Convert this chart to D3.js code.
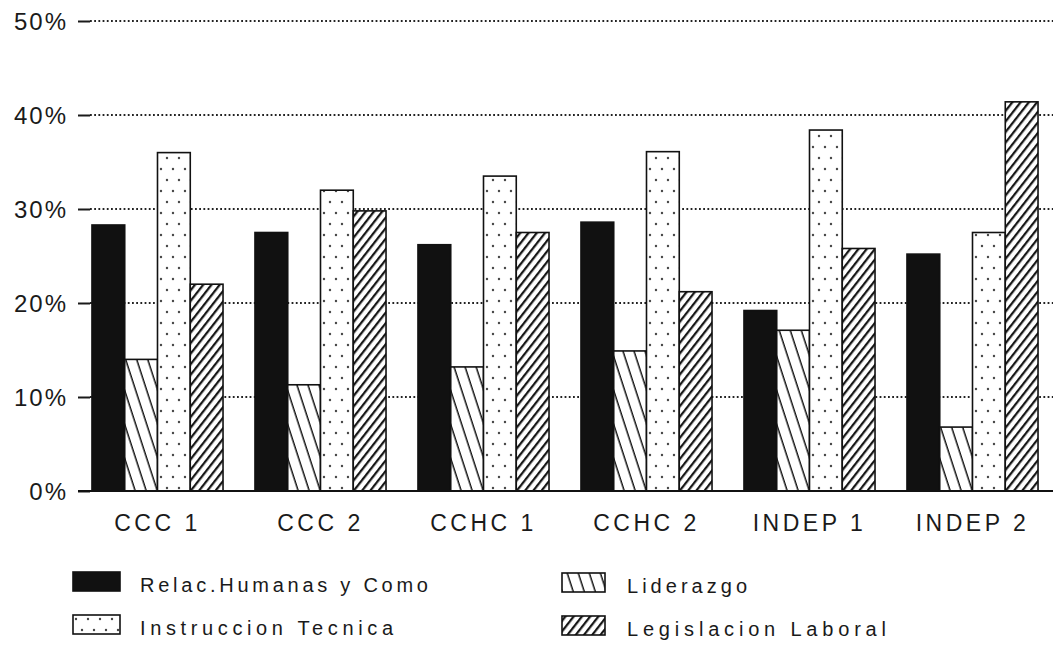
<!DOCTYPE html>
<html>
<head>
<meta charset="utf-8">
<script src="https://cdn.jsdelivr.net/npm/d3@7/dist/d3.min.js"></script>
<style>
  html, body { margin: 0; padding: 0; background: #fff; }
  svg { display: block; }
  text { font-family: "Liberation Sans", Arial, sans-serif; fill: #1a1a1a; }
</style>
</head>
<body>
<svg id="chart" width="1053" height="649"></svg>
<script>
const categories = ["CCC 1", "CCC 2", "CCHC 1", "CCHC 2", "INDEP 1", "INDEP 2"];
const seriesNames = ["Relac.Humanas y Como", "Liderazgo", "Instruccion Tecnica", "Legislacion Laboral"];
const relacHumanas = [28.3, 27.5, 26.2, 28.6, 19.2, 25.2];
const liderazgo    = [14.0, 11.3, 13.2, 14.9, 17.1, 6.8];
const instruccion  = [36.0, 32.0, 33.5, 36.1, 38.4, 27.5];
const legislacion  = [22.0, 29.8, 27.5, 21.2, 25.8, 41.4];
const yTicks = [0, 10, 20, 30, 40, 50];

const seriesValues = [relacHumanas, liderazgo, instruccion, legislacion];
const fills = ["#111", "url(#pLid)", "url(#pDots)", "url(#pLeg)"];

const svg = d3.select("#chart");
const W = 1053;

// patterns
const defs = svg.append("defs");
const pLid = defs.append("pattern").attr("id", "pLid").attr("patternUnits", "userSpaceOnUse")
  .attr("width", 10.5).attr("height", 10).attr("patternTransform", "rotate(-18)");
pLid.append("rect").attr("width", 10.5).attr("height", 10).attr("fill", "#fff");
pLid.append("line").attr("x1", 5).attr("x2", 5).attr("y1", -1).attr("y2", 11)
  .attr("stroke", "#111").attr("stroke-width", 1.5);

const pLeg = defs.append("pattern").attr("id", "pLeg").attr("patternUnits", "userSpaceOnUse")
  .attr("width", 6.5).attr("height", 10).attr("patternTransform", "rotate(38)");
pLeg.append("rect").attr("width", 6.5).attr("height", 10).attr("fill", "#fff");
pLeg.append("line").attr("x1", 3).attr("x2", 3).attr("y1", -1).attr("y2", 11)
  .attr("stroke", "#111").attr("stroke-width", 2.2);

const pDots = defs.append("pattern").attr("id", "pDots").attr("patternUnits", "userSpaceOnUse")
  .attr("width", 12).attr("height", 22);
pDots.append("rect").attr("width", 12).attr("height", 22).attr("fill", "#fff");
pDots.append("circle").attr("cx", 3).attr("cy", 4).attr("r", 1.2).attr("fill", "#444");
pDots.append("circle").attr("cx", 9).attr("cy", 15).attr("r", 1.2).attr("fill", "#444");

// scales
const y = d3.scaleLinear().domain([0, 50]).range([491, 21]);
const x = d3.scaleBand().domain(categories).range([76, 1054]).paddingInner(0.196).paddingOuter(0.098);
const xs = d3.scaleBand().domain(d3.range(seriesNames.length)).range([0, x.bandwidth()]).padding(0);

// gridlines (dotted)
svg.append("g").selectAll("line").data(yTicks.filter(d => d > 0)).join("line")
  .attr("x1", 90).attr("x2", W).attr("y1", d => y(d)).attr("y2", d => y(d))
  .attr("stroke", "#222").attr("stroke-width", 1.8).attr("stroke-dasharray", "1.8 2.4");

// y axis
const yAxis = svg.append("g").attr("transform", "translate(90,0)")
  .call(d3.axisLeft(y).tickValues(yTicks).tickFormat(d => d + "%").tickSize(12).tickPadding(10));
yAxis.select(".domain").remove();
yAxis.selectAll(".tick line").attr("stroke", "#1a1a1a").attr("stroke-width", 2);
yAxis.selectAll(".tick text").style("font-size", "24px").style("letter-spacing", "2px")
  .attr("dy", "0.36em").attr("fill", "#1a1a1a");

// bars
const groups = svg.append("g").selectAll("g").data(categories).join("g")
  .attr("transform", d => `translate(${x(d)},0)`);
groups.selectAll("rect").data((c, ci) => seriesValues.map((vals, si) => ({ si, v: vals[ci] })))
  .join("rect")
  .attr("x", d => xs(d.si))
  .attr("width", xs.bandwidth())
  .attr("y", d => y(d.v))
  .attr("height", d => y(0) - y(d.v))
  .attr("fill", d => fills[d.si])
  .attr("stroke", "#111").attr("stroke-width", 1.6);

// baseline
svg.append("line").attr("x1", 78).attr("x2", W).attr("y1", y(0)).attr("y2", y(0))
  .attr("stroke", "#111").attr("stroke-width", 2.2);

// x axis labels
const xAxis = svg.append("g").attr("transform", `translate(0,${y(0)})`)
  .call(d3.axisBottom(x).tickSize(0).tickPadding(24));
xAxis.select(".domain").remove();
xAxis.selectAll(".tick text").style("font-size", "23px").style("letter-spacing", "3.5px")
  .attr("fill", "#1a1a1a");

// legend
const legendItems = [
  { si: 0, x: 73, y: 572, len: 288 },
  { si: 1, x: 562, y: 573, len: 120 },
  { si: 2, x: 73, y: 615, len: 253 },
  { si: 3, x: 562, y: 616, len: 259 }
];
const lg = svg.append("g").selectAll("g").data(legendItems).join("g")
  .attr("transform", d => `translate(${d.x},${d.y})`);
lg.append("rect").attr("width", d => d.x < 300 ? 47 : 43).attr("height", 19)
  .attr("fill", d => fills[d.si]).attr("stroke", "#111").attr("stroke-width", 1.6);
lg.append("text").attr("x", d => d.x < 300 ? 67 : 65).attr("y", 20)
  .style("font-size", "20px")
  .attr("textLength", d => d.len).attr("lengthAdjust", "spacing")
  .text(d => seriesNames[d.si]);
</script>
</body>
</html>
